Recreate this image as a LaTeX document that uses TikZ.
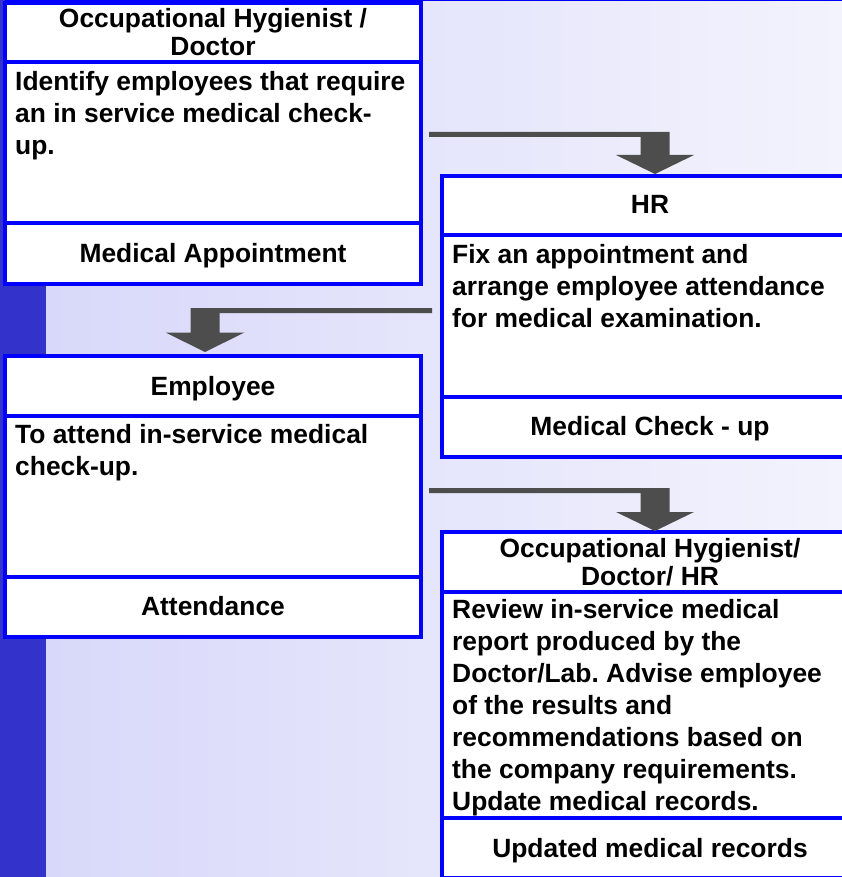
\documentclass[tikz,border=0pt]{standalone}
\usepackage{fontspec}
\setmainfont{Liberation Sans}
\usetikzlibrary{calc}
\frenchspacing
\definecolor{stripblue}{RGB}{51,51,204}
\definecolor{bgL}{RGB}{216,216,250}
\definecolor{bgR}{RGB}{243,243,253}
\definecolor{arrowgray}{RGB}{77,77,77}
\definecolor{boxblue}{RGB}{0,0,255}
\tikzset{
  sec/.style={draw=boxblue, line width=3.5pt, fill=white, anchor=north west,
    minimum width=416pt, inner sep=0pt, outer sep=0pt},
  ttl/.style={anchor=base, inner sep=0pt, font=\bfseries\fontsize{26.4}{28.5}\selectfont},
  dsc/.style={anchor=base west, inner sep=0pt, font=\bfseries\fontsize{26.4}{32}\selectfont},
  flow/.style={fill=arrowgray},
}
\begin{document}
\begin{tikzpicture}[x=1pt,y=-1pt]
\useasboundingbox (0,0) rectangle (842,877);
\clip (0,0) rectangle (842,877);
% background
\shade[left color=bgL, right color=bgR] (46,0) rectangle (842,877);
\fill[stripblue] (0,0) rectangle (46,877);
\draw[boxblue, line width=1.5pt] (5,0.5) -- (842,0.5);

% box 1
\node[sec, minimum height=59pt] (b1t) at (5,3) {};
\node[sec, minimum height=161pt] (b1d) at (5,62) {};
\node[sec, minimum height=61pt] (b1o) at (5,223) {};
% box HR
\node[sec, minimum height=59pt] (hrt) at (442,176) {};
\node[sec, minimum height=162pt] (hrd) at (442,235) {};
\node[sec, minimum height=60pt] (hro) at (442,397) {};
% box Employee
\node[sec, minimum height=60pt] (emt) at (5,356) {};
\node[sec, minimum height=161pt] (emd) at (5,416) {};
\node[sec, minimum height=60pt] (emo) at (5,577) {};
% box OH/Doctor/HR
\node[sec, minimum height=60pt] (oht) at (442,532) {};
\node[sec, minimum height=226pt] (ohd) at (442,592) {};
\node[sec, minimum height=60pt] (oho) at (442,818) {};

% texts
\node[ttl] (b1tt) at ($(b1t.north)+(0,24.5)$) {\parbox[t]{420pt}{\centering Occupational Hygienist /\\Doctor}};
\node[dsc] (b1dt) at ($(b1d.north west)+(10,28.5)$) {\parbox[t]{420pt}{\raggedright Identify employees that require\\an in service medical check-\\up.}};
\node[ttl] (b1ot) at ($(b1o.center)+(0,9)$) {Medical Appointment};

\node[ttl] (hrtt) at ($(hrt.center)+(0,8.5)$) {HR};
\node[dsc] (hrdt) at ($(hrd.north west)+(10,28)$) {\parbox[t]{420pt}{\raggedright Fix an appointment and\\arrange employee attendance\\for medical examination.}};
\node[ttl] (hrot) at ($(hro.center)+(0,8.5)$) {Medical Check - up};

\node[ttl] (emtt) at ($(emt.center)+(0,9)$) {Employee};
\node[dsc] (emdt) at ($(emd.north west)+(10,27)$) {\parbox[t]{420pt}{\raggedright To attend in-service medical\\check-up.}};
\node[ttl] (emot) at ($(emo.center)+(0,8.5)$) {Attendance};

\node[ttl] (ohtt) at ($(oht.north)+(0,25)$) {\parbox[t]{420pt}{\centering Occupational Hygienist/\\Doctor/ HR}};
\node[dsc] (ohdt) at ($(ohd.north west)+(10,26)$) {\parbox[t]{420pt}{\raggedright Review in-service medical\\report produced by the\\Doctor/Lab. Advise employee\\of the results and\\recommendations based on\\the company requirements.\\Update medical records.}};
\node[ttl] (ohot) at ($(oho.north)+(0,39)$) {Updated medical records};

% connectors
\coordinate (a1s) at ($(b1d.east)+(8,-8)$);
\coordinate (a1t) at ($(hrt.north)+(5,-2)$);
\coordinate (a2s) at ($(hrd.west)+(-10,-5.5)$);
\coordinate (a2t) at ($(emt.north)+(-8,-4)$);
\coordinate (a3s) at ($(emd.east)+(8,-6)$);
\coordinate (a3t) at ($(oht.north)+(5,-1)$);

\fill[flow] let \p1=(a1s), \p2=(a1t) in
  (\x1,\y1+2.5pt) -- (\x2+14.5pt,\y1+2.5pt) -- (\x2+14.5pt,\y2+19pt) -- (\x2+39pt,\y2+19pt)
  -- (\x2,\y2) -- (\x2-39pt,\y2+19pt) -- (\x2-14.5pt,\y2+19pt) -- (\x2-14.5pt,\y1-2.5pt)
  -- (\x1,\y1-2.5pt) -- cycle;
\fill[flow] let \p1=(a2s), \p2=(a2t) in
  (\x1,\y1+2.5pt) -- (\x2-14.5pt,\y1+2.5pt) -- (\x2-14.5pt,\y2+19.5pt) -- (\x2-39.5pt,\y2+19.5pt)
  -- (\x2,\y2) -- (\x2+39.5pt,\y2+19.5pt) -- (\x2+14.5pt,\y2+19.5pt) -- (\x2+14.5pt,\y1-2.5pt)
  -- (\x1,\y1-2.5pt) -- cycle;
\fill[flow] let \p1=(a3s), \p2=(a3t) in
  (\x1,\y1+2.5pt) -- (\x2+14.5pt,\y1+2.5pt) -- (\x2+14.5pt,\y2+19pt) -- (\x2+39pt,\y2+19pt)
  -- (\x2,\y2) -- (\x2-39pt,\y2+19pt) -- (\x2-14.5pt,\y2+19pt) -- (\x2-14.5pt,\y1-2.5pt)
  -- (\x1,\y1-2.5pt) -- cycle;
\end{tikzpicture}
\end{document}
